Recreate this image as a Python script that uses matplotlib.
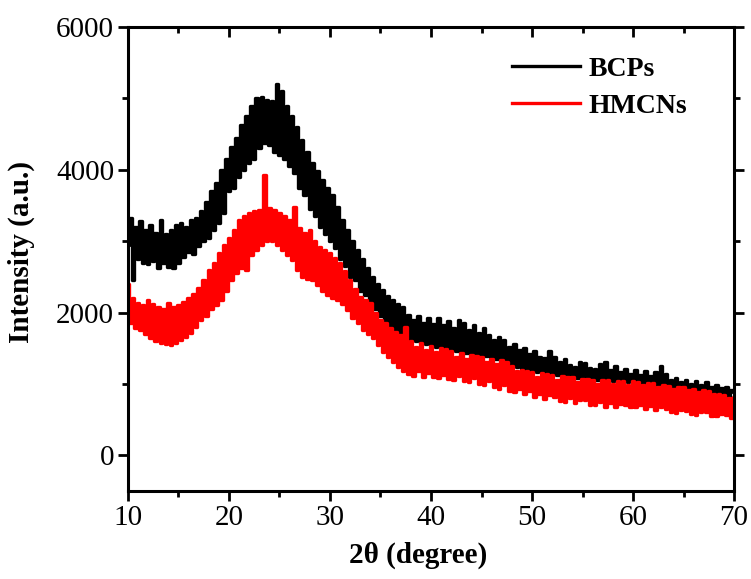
import matplotlib.pyplot as plt
import numpy as np
from matplotlib.ticker import MultipleLocator

# 2theta grid: 10 to 70 degree, 0.25 degree step
two_theta = np.linspace(10, 70, 241)

# BCPs intensity, one row per degree (values at d, d+0.25, d+0.5, d+0.75)
bcps = [
    2950, 3320, 2450, 3200,   # 10
    2750, 3280, 2700, 3150,   # 11
    2680, 3230, 2720, 3120,   # 12
    2620, 3290, 2700, 3100,   # 13
    2640, 3150, 2620, 3230,   # 14
    2700, 3260, 2780, 3200,   # 15
    2850, 3300, 2820, 3330,   # 16
    2930, 3420, 3000, 3550,   # 17
    3050, 3700, 3150, 3820,   # 18
    3250, 4000, 3400, 4150,   # 19
    3700, 4320, 3750, 4450,   # 20
    3900, 4620, 4000, 4750,   # 21
    4100, 4900, 4150, 5000,   # 22
    4300, 5020, 4380, 4980,   # 23
    4350, 4960, 4250, 5200,   # 24
    4200, 5100, 4150, 4900,   # 25
    4050, 4760, 3950, 4600,   # 26
    3750, 4420, 3650, 4250,   # 27
    3450, 4100, 3350, 3980,   # 28
    3200, 3860, 3100, 3750,   # 29
    3000, 3640, 2900, 3480,   # 30
    2750, 3300, 2650, 3150,   # 31
    2500, 3000, 2450, 2880,   # 32
    2300, 2750, 2250, 2620,   # 33
    2150, 2500, 2050, 2400,   # 34
    1950, 2310, 1880, 2230,   # 35
    1800, 2170, 1750, 2120,   # 36
    1700, 2080, 1650, 1960,   # 37
    1620, 1900, 1600, 1950,   # 38
    1580, 1860, 1560, 1920,   # 39
    1550, 1840, 1520, 1930,   # 40
    1500, 1820, 1490, 1880,   # 41
    1480, 1780, 1460, 1900,   # 42
    1450, 1850, 1440, 1760,   # 43
    1420, 1820, 1410, 1720,   # 44
    1400, 1790, 1390, 1680,   # 45
    1370, 1620, 1350, 1660,   # 46
    1330, 1610, 1300, 1520,   # 47
    1250, 1560, 1230, 1470,   # 48
    1200, 1510, 1190, 1420,   # 49
    1180, 1460, 1160, 1380,   # 50
    1150, 1360, 1140, 1460,   # 51
    1130, 1380, 1120, 1300,   # 52
    1110, 1350, 1100, 1270,   # 53
    1090, 1240, 1080, 1300,   # 54
    1070, 1290, 1060, 1220,   # 55
    1060, 1210, 1050, 1280,   # 56
    1050, 1300, 1040, 1200,   # 57
    1040, 1250, 1030, 1170,   # 58
    1030, 1210, 1020, 1140,   # 59
    1020, 1190, 1010, 1120,   # 60
    1010, 1180, 1000, 1110,   # 61
    1000, 1170, 990, 1250,    # 62
    980, 1140, 970, 1060,     # 63
    960, 1080, 950, 1020,     # 64
    940, 1050, 930, 1000,     # 65
    920, 1040, 910, 990,      # 66
    900, 1020, 890, 960,      # 67
    870, 990, 860, 940,       # 68
    840, 960, 830, 910,       # 69
    880,                      # 70
]

# HMCNs intensity, same grid
hmcns = [
    2400, 1850, 2200, 1780,   # 10
    2130, 1750, 2100, 1700,   # 11
    2170, 1650, 2120, 1600,   # 12
    2080, 1570, 2050, 1560,   # 13
    2130, 1550, 2080, 1580,   # 14
    2100, 1610, 2150, 1660,   # 15
    2200, 1710, 2260, 1800,   # 16
    2350, 1890, 2450, 1950,   # 17
    2600, 2050, 2700, 2100,   # 18
    2830, 2170, 2950, 2300,   # 19
    3050, 2450, 3150, 2550,   # 20
    3290, 2630, 3350, 2600,   # 21
    3390, 2800, 3420, 2880,   # 22
    3430, 2950, 3920, 3000,   # 23
    3470, 3000, 3440, 2950,   # 24
    3400, 2880, 3350, 2800,   # 25
    3300, 2730, 3480, 2600,   # 26
    3180, 2500, 3120, 2470,   # 27
    3150, 2450, 3000, 2380,   # 28
    2920, 2300, 2880, 2250,   # 29
    2830, 2210, 2760, 2170,   # 30
    2690, 2120, 2580, 2030,   # 31
    2450, 1930, 2330, 1850,   # 32
    2220, 1750, 2180, 1700,   # 33
    2130, 1650, 2000, 1550,   # 34
    1900, 1450, 1850, 1380,   # 35
    1780, 1300, 1730, 1230,   # 36
    1680, 1180, 1800, 1140,   # 37
    1600, 1110, 1520, 1180,   # 38
    1570, 1090, 1480, 1150,   # 39
    1530, 1090, 1450, 1080,   # 40
    1510, 1130, 1490, 1070,   # 41
    1460, 1060, 1380, 1110,   # 42
    1430, 1040, 1350, 1030,   # 43
    1400, 1080, 1390, 1000,   # 44
    1380, 990, 1300, 1040,    # 45
    1350, 950, 1280, 930,     # 46
    1330, 990, 1300, 900,     # 47
    1250, 880, 1180, 930,     # 48
    1190, 860, 1180, 900,     # 49
    1170, 810, 1100, 860,     # 50
    1150, 790, 1140, 840,     # 51
    1130, 820, 1060, 760,     # 52
    1110, 750, 1100, 800,     # 53
    1090, 735, 1030, 780,     # 54
    1075, 770, 1070, 710,     # 55
    1060, 700, 1000, 740,     # 56
    1050, 680, 1050, 730,     # 57
    1000, 675, 1045, 720,     # 58
    1040, 710, 980, 670,      # 59
    1040, 670, 1030, 700,     # 60
    980, 650, 1015, 690,      # 61
    1010, 630, 950, 670,      # 62
    990, 650, 975, 600,       # 63
    930, 595, 955, 640,       # 64
    950, 620, 910, 578,       # 65
    930, 570, 890, 610,       # 66
    910, 600, 895, 552,       # 67
    860, 545, 865, 580,       # 68
    850, 560, 800, 525,       # 69
    810,                      # 70
]

plt.rcParams['font.family'] = ['Liberation Serif', 'DejaVu Serif']

fig = plt.figure(figsize=(7.51, 5.79), dpi=100)
ax = fig.add_axes([0.1704, 0.1520, 0.807, 0.8014])

# steps give a solid noisy band like the raw scan
ax.plot(two_theta, bcps, color='black', lw=2.4, drawstyle='steps-mid', label='BCPs')
ax.plot(two_theta, hmcns, color='red', lw=2.4, drawstyle='steps-mid', label='HMCNs')

ax.set_xlim(10, 70)
ax.set_ylim(-500, 6000)
ax.xaxis.set_major_locator(MultipleLocator(10))
ax.xaxis.set_minor_locator(MultipleLocator(5))
ax.yaxis.set_major_locator(MultipleLocator(2000))
ax.yaxis.set_minor_locator(MultipleLocator(1000))

for s in ax.spines.values():
    s.set_linewidth(2.2)

# bottom / left ticks point out, top / right ticks point in
ax.tick_params(which='major', direction='out', length=7, width=2, labelsize=21, pad=3)
ax.tick_params(which='minor', direction='out', length=4.5, width=2)
ax.tick_params(top=True, right=True, which='both')
for t in ax.xaxis.get_major_ticks() + ax.xaxis.get_minor_ticks():
    t.tick2line.set_marker(3)  # inward on top
for t in ax.yaxis.get_major_ticks() + ax.yaxis.get_minor_ticks():
    t.tick2line.set_marker(1)  # inward on right

ax.set_xlabel('2θ (degree)', fontsize=21, fontweight='bold')
ax.xaxis.set_label_coords(0.479, -0.110)
ax.set_ylabel('Intensity (a.u.)', fontsize=21, fontweight='bold')
ax.yaxis.set_label_coords(-0.153, 0.515)

ax.legend(loc='upper left', bbox_to_anchor=(0.6155, 0.961), borderaxespad=0,
          frameon=False, handlelength=2.45, handletextpad=0.3,
          prop={'size': 20, 'weight': 'bold'}, labelspacing=0.43)

fig.savefig('out.png', dpi=100)
